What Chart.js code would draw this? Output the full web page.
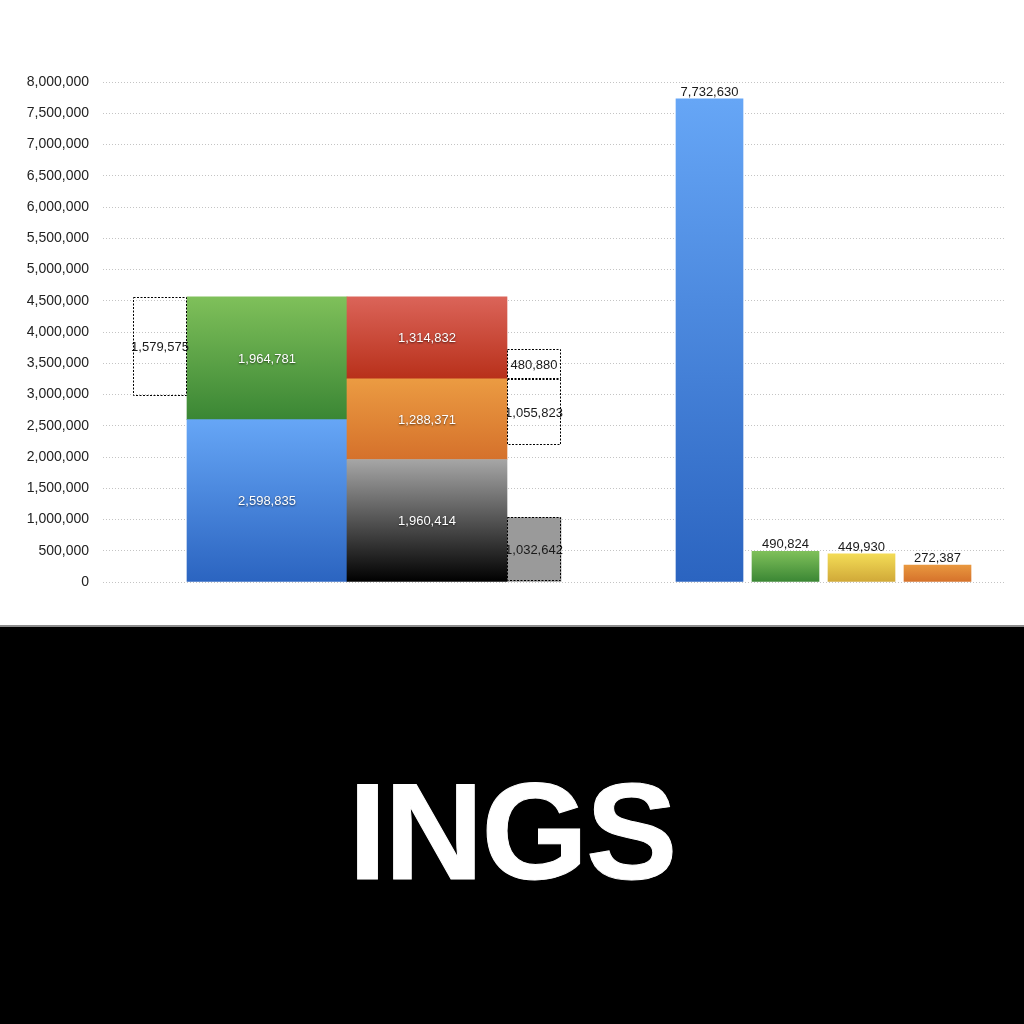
<!DOCTYPE html>
<html lang="en">
<head>
<meta charset="UTF-8">
<title>INGS</title>
<script src="https://cdn.jsdelivr.net/npm/chart.js"></script>
<style>
    * { margin: 0; padding: 0; box-sizing: border-box; }
    body { width: 1024px; height: 1024px; overflow: hidden; background: #fff; position: relative; }
    .chart-wrap { position: relative; width: 1024px; height: 625px; }
    .banner {
        position: absolute; left: 0; top: 625px; width: 1024px; height: 399px;
        background: #000; border-top: 2px solid #8c8c8c;
    }
    .banner span {
        position: absolute; left: 0; width: 1024px; top: 136px; text-align: center;
        color: #fff; font-family: 'Liberation Sans', Arial, sans-serif; font-weight: bold;
        font-size: 137px; line-height: 137px; letter-spacing: -2px;
        -webkit-text-stroke: 1px #fff;
    }
</style>
</head>
<body>
<div class="chart-wrap"><canvas id="chart"></canvas></div>
<div class="banner"><span>INGS</span></div>

<script>
    // values
    const columnA = [2598835, 1964781];            // bottom to top: blue, green
    const columnB = [1960414, 1288371, 1314832];   // bottom to top: black, orange, red
    const sideLeft = [1579575];                    // hangs from the top of column A
    const sideRight = [480880, 1055823, 1032642];  // beside column B
    const rightBars = [7732630, 490824, 449930, 272387];
    const yMax = 8000000;
    const yStep = 500000;

    const columnAColors = [['#66a6f6', '#2b64c0'], ['#7fc05a', '#3a8634']];
    const columnBColors = [['#a6a6a6', '#000000'], ['#eb9b42', '#d5712b'], ['#db6459', '#b8301a']];
    const rightColors = [['#66a6f6', '#2b64c0'], ['#7fc05a', '#3a8634'], ['#f3dc56', '#d0a838'], ['#e9983f', '#d5712b']];

    const COL_W = 160, SIDE_W = 54, RIGHT_W = 69;
    const sideOffset = 0.5 + 0.5 * SIDE_W / COL_W;

    const fmt = v => v.toLocaleString('en-US');

    function gradient(top, bottom) {
        return function (c) {
            if (!c.raw || !c.chart.chartArea) return bottom;
            const y = c.chart.scales.y;
            const g = c.chart.ctx.createLinearGradient(0, y.getPixelForValue(c.raw.y[1]), 0, y.getPixelForValue(c.raw.y[0]));
            g.addColorStop(0, top);
            g.addColorStop(1, bottom);
            return g;
        };
    }

    function bar(axis, x, lo, hi, value, colors, label, extra) {
        return Object.assign({
            xAxisID: axis,
            data: [{ x: x, y: [lo, hi] }],
            value: value,
            labelStyle: label,
            backgroundColor: colors ? gradient(colors[0], colors[1]) : 'rgba(0,0,0,0)',
            grouped: false,
            barPercentage: 1,
            categoryPercentage: 1,
            borderWidth: 0,
            order: 0
        }, extra || {});
    }

    // draw order: column A first, then the side boxes, then column B and the right bars
    const datasets = [];
    let base = 0;
    columnA.forEach((v, i) => {
        datasets.push(bar('xL', 0, base, base + v, v, columnAColors[i], 'inside', { maxBarThickness: COL_W, order: 2 }));
        base += v;
    });
    const topA = base;
    base = 0;
    columnB.forEach((v, i) => {
        datasets.push(bar('xL', 1, base, base + v, v, columnBColors[i], 'inside', { maxBarThickness: COL_W }));
        base += v;
    });
    const orangeTop = columnB[0] + columnB[1];

    const side = { maxBarThickness: SIDE_W, order: 1, dashed: true };
    datasets.push(bar('xS', 0 - sideOffset, topA - sideLeft[0], topA, sideLeft[0], null, 'box', side));
    datasets.push(bar('xS', 1 + sideOffset, orangeTop, orangeTop + sideRight[0], sideRight[0], null, 'box', side));
    datasets.push(bar('xS', 1 + sideOffset, orangeTop - sideRight[1], orangeTop, sideRight[1], null, 'box', side));
    datasets.push(bar('xS', 1 + sideOffset, 0, sideRight[2], sideRight[2], null, 'box',
        Object.assign({}, side, { backgroundColor: '#9a9a9a' })));

    rightBars.forEach((v, i) => {
        datasets.push(bar('xR', i, 0, v, v, rightColors[i], 'top', { maxBarThickness: RIGHT_W }));
    });

    // numbers on the bars
    const valueLabels = {
        id: 'valueLabels',
        afterDatasetDraw(chart, args) {
            const ds = chart.data.datasets[args.index];
            const ctx = chart.ctx;
            args.meta.data.forEach(el => {
                ctx.save();
                ctx.font = '13px "Liberation Sans", Arial, sans-serif';
                ctx.textAlign = 'center';
                if (ds.labelStyle === 'top') {
                    ctx.fillStyle = '#1a1a1a';
                    ctx.textBaseline = 'alphabetic';
                    ctx.fillText(fmt(ds.value), el.x, el.y - 3);
                } else {
                    ctx.textBaseline = 'middle';
                    if (ds.labelStyle === 'inside') {
                        ctx.fillStyle = '#ffffff';
                        ctx.shadowColor = 'rgba(0,0,0,0.6)';
                        ctx.shadowBlur = 2;
                        ctx.shadowOffsetY = 1;
                    } else {
                        ctx.fillStyle = '#1a1a1a';
                    }
                    ctx.fillText(fmt(ds.value), el.x, (el.y + el.base) / 2 + 1);
                }
                ctx.restore();
            });
        },
        afterDatasetsDraw(chart) {
            const ctx = chart.ctx;
            chart.data.datasets.forEach((ds, i) => {
                if (!ds.dashed) return;
                chart.getDatasetMeta(i).data.forEach(el => {
                    const left = Math.round(el.x - el.width / 2) + 0.5;
                    const top = Math.round(el.y) + 0.5;
                    const w = Math.round(el.width) - 1;
                    const h = Math.round(el.base - el.y) - 1;
                    ctx.save();
                    ctx.strokeStyle = '#000';
                    ctx.lineWidth = 1;
                    ctx.setLineDash([2, 1.5]);
                    ctx.strokeRect(left, top, w, h);
                    ctx.restore();
                });
            });
        }
    };

    const hiddenX = (min, max) => ({
        type: 'linear', axis: 'x', display: false, min: min, max: max,
        offset: false, bounds: 'data',
        grid: { offset: false },
        ticks: { stepSize: 1, includeBounds: false }
    });

    new Chart(document.getElementById('chart'), {
        type: 'bar',
        data: { datasets: datasets },
        options: {
            responsive: true,
            maintainAspectRatio: false,
            animation: false,
            layout: { padding: { top: 82, right: 18, bottom: 43, left: 0 } },
            plugins: { legend: { display: false }, tooltip: { enabled: false } },
            scales: {
                xL: hiddenX(-1.025, 4.61875),
                xS: hiddenX(-1.025, 4.61875),
                xR: hiddenX(-7.9803, 3.9013),
                y: {
                    min: 0,
                    max: yMax,
                    afterFit: s => { s.width = 103; },
                    ticks: {
                        stepSize: yStep,
                        padding: 14,
                        color: '#222',
                        font: { family: '"Liberation Sans", Arial, sans-serif', size: 14 },
                        callback: v => fmt(v)
                    },
                    grid: { color: '#c4c4c4', drawTicks: false, lineWidth: 1 },
                    border: { display: false, dash: [1, 2] }
                }
            }
        },
        plugins: [valueLabels]
    });
</script>
</body>
</html>
